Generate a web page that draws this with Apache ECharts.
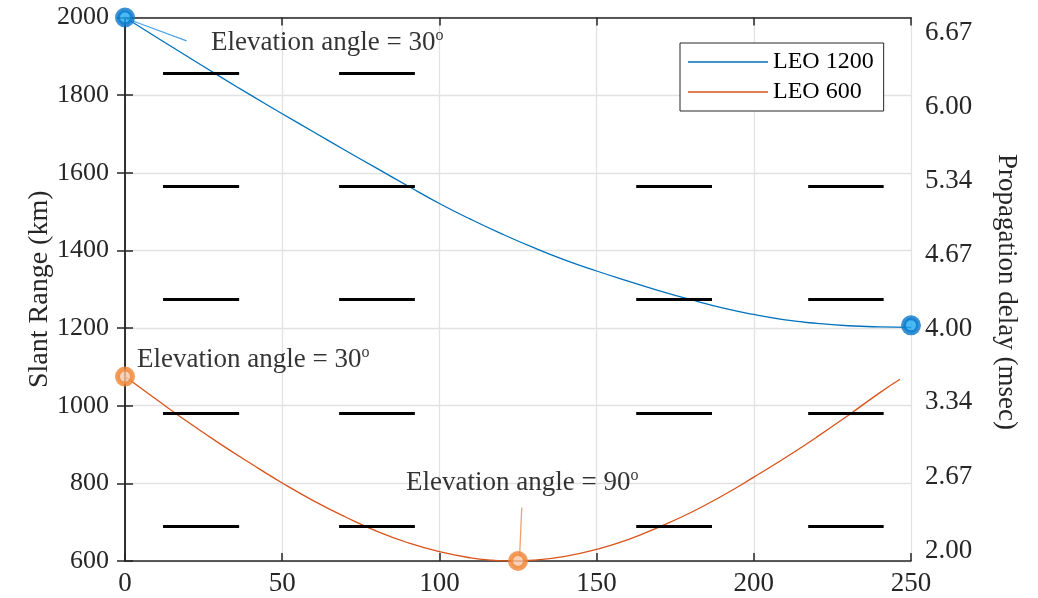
<!DOCTYPE html>
<html><head><meta charset="utf-8">
<script src="https://cdn.jsdelivr.net/npm/echarts@6/dist/echarts.min.js"></script>
<style>html,body{margin:0;padding:0;background:#fff}#c{width:1038px;height:598px}</style>
</head><body><div id="c"></div>
<script>
// ---- data ----
const leo1200X = [0,10,20,30,40,50,60,70,80,90,100,110,120,130,140,150,160,170,180,190,200,210,220,230,240,250];
const leo1200Y = [2000,1949,1899,1849,1800,1752,1705,1658,1612,1566,1521,1480,1442,1407,1375,1347,1321,1296,1273,1252,1235,1221,1212,1206,1203,1202];
const leo600X = [0,10,20,30,40,50,60,70,80,90,100,110,117,123.5,130,140,150,160,170,180,190,200,210,220,230,240,246.5];
const leo600Y = [1075,1016,958,903,851,801,755,714,677,647,624,608,602,600,602,612,630,655,688,725,768,816,866,919,975,1033,1068];
const tip1200 = [[0,2000],[250,1207]];
const tip600 = [[0,1075],[125,600]];
const tipTexts = ['Elevation angle = 30', 'Elevation angle = 30', 'Elevation angle = 90'];
const delayTicks = [2.00,2.67,3.34,4.00,4.67,5.34,6.00,6.67];
const dashLevels = [690, 980, 1274, 1566, 1857];
const dashCols = [4, 4, 4, 4, 2];
const dashSpans = [[12.1,36.3],[68.1,92.2],[162.6,186.7],[217.3,241.3]];
const leader1200 = [[2.5,1991],[19.6,1940]];
const leader600 = [[126.2,738],[125.5,611]];

const FONT = 'Liberation Serif';
const AX = '#262626';
const BLUE = '#0072BD', RED = '#D95319';

const pairs = (xs, ys) => xs.map((x, i) => [x, ys[i]]);

const dashData = [];
dashLevels.forEach((y, r) => {
  for (let c = 0; c < dashCols[r]; c++) {
    dashData.push([{coord: [dashSpans[c][0], y]}, {coord: [dashSpans[c][1], y]}]);
  }
});

function tipLabel(text, offset) {
  return {
    show: true, position: 'inside', align: 'left', verticalAlign: 'middle', offset: offset,
    formatter: '{a|' + text + '}{s|o}',
    rich: {
      a: {fontFamily: FONT, fontSize: 27, color: '#000', lineHeight: 30},
      s: {fontFamily: FONT, fontSize: 16, color: '#000', verticalAlign: 'top'}
    }
  };
}

const axisLineStyle = {show: true, lineStyle: {color: AX, width: 1.5}};
const tickStyle = {show: true, inside: true, length: 8, lineStyle: {color: AX, width: 1.5}};
const gridLine = {show: true, lineStyle: {color: '#e2e2e2', width: 1.3}};
const labelStyle = {fontFamily: FONT, fontSize: 27, color: AX};

const chart = echarts.init(document.getElementById('c'), null, {renderer: 'canvas'});
chart.setOption({
  animation: false,
  backgroundColor: '#fff',
  grid: [
    {left: 125, right: 127, top: 17.5, bottom: 37},
    {left: 125, right: 127, top: 33, bottom: 47}
  ],
  xAxis: [
    {type: 'value', gridIndex: 0, min: 0, max: 250, interval: 50, position: 'bottom',
     axisLine: axisLineStyle, axisTick: tickStyle, splitLine: gridLine,
     axisLabel: Object.assign({margin: 9, formatter: v => String(v)}, labelStyle)},
    {type: 'value', gridIndex: 0, min: 0, max: 250, interval: 50, position: 'top',
     axisLine: axisLineStyle, axisTick: tickStyle, splitLine: {show: false}, axisLabel: {show: false}},
    {type: 'value', gridIndex: 1, min: 0, max: 1, show: false}
  ],
  yAxis: [
    {type: 'value', gridIndex: 0, min: 600, max: 2000, interval: 200, position: 'left',
     axisLine: axisLineStyle, axisTick: tickStyle, splitLine: gridLine,
     axisLabel: Object.assign({margin: 16, formatter: v => String(v)}, labelStyle, {fontSize: 26}),
     name: 'Slant Range (km)', nameLocation: 'middle', nameGap: 71, nameMoveOverlap: false,
     nameTextStyle: {fontFamily: FONT, fontSize: 28, color: AX}},
    {type: 'value', gridIndex: 0, min: 600, max: 2000, interval: 200, position: 'right',
     axisLine: axisLineStyle, axisTick: tickStyle, splitLine: {show: false}, axisLabel: {show: false}},
    {type: 'value', gridIndex: 1, min: 2, max: 6.67, position: 'right',
     axisLine: {show: false}, axisTick: {show: false}, splitLine: {show: false},
     axisLabel: Object.assign({margin: 14, customValues: delayTicks, formatter: v => v.toFixed(2)}, labelStyle),
     name: 'Propagation delay (msec)', nameLocation: 'middle', nameGap: 82, nameRotate: -90, nameMoveOverlap: false,
     nameTextStyle: {fontFamily: FONT, fontSize: 27, color: AX}}
  ],
  legend: {
    orient: 'vertical', left: 680, top: 43, padding: [7, 10, 7, 8],
    itemWidth: 80, itemHeight: 1.6, itemGap: 6, icon: 'rect',
    backgroundColor: '#fff', borderColor: AX, borderWidth: 1, borderRadius: 0,
    textStyle: {fontFamily: FONT, fontSize: 24, color: '#000', lineHeight: 24},
    data: ['LEO 1200', 'LEO 600']
  },
  series: [
    {name: 'LEO 1200', type: 'line', xAxisIndex: 0, yAxisIndex: 0, data: pairs(leo1200X, leo1200Y),
     showSymbol: false, smooth: 0.5, lineStyle: {color: BLUE, width: 1.3}, itemStyle: {color: BLUE}, z: 3},
    {name: 'LEO 600', type: 'line', xAxisIndex: 0, yAxisIndex: 0, data: pairs(leo600X, leo600Y),
     showSymbol: false, smooth: 0.5, lineStyle: {color: RED, width: 1.3}, itemStyle: {color: RED}, z: 3},
    {name: 'marks', type: 'line', xAxisIndex: 0, yAxisIndex: 0, data: [], silent: true, z: 4,
     markLine: {silent: true, symbol: 'none', label: {show: false}, animation: false,
       data: dashData.map(d => [Object.assign({lineStyle: {color: '#000', width: 2.8, type: 'solid'}}, d[0]), d[1]])
         .concat([
           [{coord: leader1200[0], lineStyle: {color: '#4da3e6', width: 1.3, type: 'solid'}}, {coord: leader1200[1]}],
           [{coord: leader600[0], lineStyle: {color: '#f0a070', width: 1.3, type: 'solid'}}, {coord: leader600[1]}]
         ])}},
    {name: 'tips1200', type: 'scatter', xAxisIndex: 0, yAxisIndex: 0, clip: false, z: 6,
     symbolSize: 15, itemStyle: {color: '#1ea8f0', borderColor: '#0a76c8', borderWidth: 5},
     data: [
       {value: tip1200[0], label: tipLabel(tipTexts[0], [86, 25])},
       {value: tip1200[1]}
     ]},
    {name: 'tips600', type: 'scatter', xAxisIndex: 0, yAxisIndex: 0, clip: false, z: 6,
     symbolSize: 15, itemStyle: {color: '#f8c6a4', borderColor: '#ef8434', borderWidth: 5},
     data: [
       {value: tip600[0], label: tipLabel(tipTexts[1], [12, -17])},
       {value: tip600[1], label: tipLabel(tipTexts[2], [-112, -78])}
     ]}
  ]
});
</script></body></html>
